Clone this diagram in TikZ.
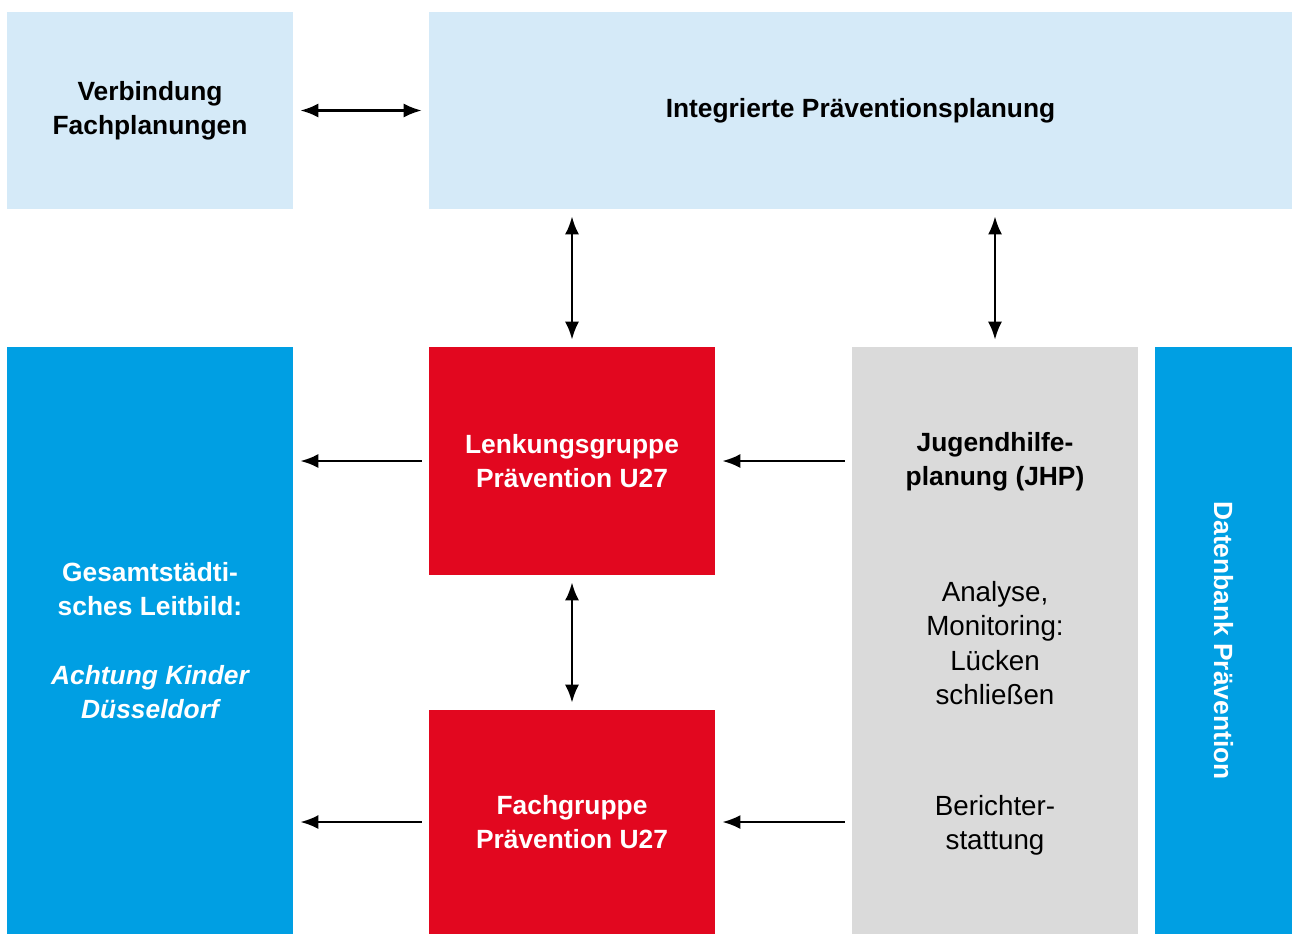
\documentclass[tikz,border=0pt]{standalone}
\usepackage{fontspec}
\setmainfont{Liberation Sans}
\usetikzlibrary{arrows.meta}
\definecolor{hellblau}{HTML}{D5EAF8}
\definecolor{blau}{HTML}{009FE3}
\definecolor{rot}{HTML}{E2071F}
\definecolor{grau}{HTML}{DADADA}
\begin{document}
\begin{tikzpicture}[
	x=0.02cm, y=-0.02cm,
	box/.style={inner sep=0pt, align=center, minimum width=5.72cm,
	font=\bfseries\fontsize{15}{19.5}\selectfont},
	schrift/.style={align=center, inner sep=0pt, font=\fontsize{15.8}{19.5}\selectfont},
	pfeil/.style={-{Latex[length=3.6mm,width=2.8mm]}, line width=1.4pt,
	shorten >=0.14cm, shorten <=0.14cm},
	doppelpfeil/.style={pfeil, {Latex[length=3.6mm,width=2.8mm]}-{Latex[length=3.6mm,width=2.8mm]}},
	]
	\useasboundingbox (0,0) rectangle (1293,934);
	% obere Reihe
	\node[box, fill=hellblau, minimum height=3.94cm] (verb) at (150,110.5) {Verbindung\\Fachplanungen};
	\node[box, fill=hellblau, minimum height=3.94cm, minimum width=17.26cm] (integ) at (860.5,110.5) {Integrierte Präventionsplanung};
	% untere Reihe
	\node[box, fill=blau, text=white, minimum height=11.74cm] (leit) at (150,640.5)
		{Gesamtstädti-\\sches Leitbild:\\[19.5pt]\itshape Achtung Kinder\\\itshape Düsseldorf};
	\node[box, fill=rot, text=white, minimum height=4.56cm] (lenk) at (572,461) {Lenkungsgruppe\\Prävention U27};
	\node[box, fill=rot, text=white, minimum height=4.48cm] (fach) at (572,822) {Fachgruppe\\Prävention U27};
	\node[box, fill=grau, minimum height=11.74cm] (jhp) at (995,640.5) {};
	\node[box, fill=blau, minimum height=11.74cm, minimum width=2.74cm] (daten) at (1223.5,640.5) {};
	\node[box, text=white, rotate=-90, minimum width=0pt] (datentext) at (daten.center) {Datenbank Prävention};
	% Texte in JHP
	\node[box, minimum width=0pt] (jhptitel) at (995,462) {Jugendhilfe-\\planung (JHP)};
	\node[schrift] (jhpanalyse) at (995,643) {Analyse,\\Monitoring:\\Lücken\\schließen};
	\node[schrift] (jhpbericht) at (995,825) {Berichter-\\stattung};
	% Pfeile
	\draw[doppelpfeil] (verb) -- (integ.west |- verb);
	\draw[doppelpfeil] (integ.south -| lenk.north) -- (lenk.north);
	\draw[doppelpfeil] (integ.south -| jhp.north) -- (jhp.north);
	\draw[doppelpfeil] (lenk.south) -- (fach.north);
	\draw[pfeil] (lenk.west) -- (leit.east |- lenk.west);
	\draw[pfeil] (fach.west) -- (leit.east |- fach.west);
	\draw[pfeil] (jhp.west |- lenk.east) -- (lenk.east);
	\draw[pfeil] (jhp.west |- fach.east) -- (fach.east);
\end{tikzpicture}
\end{document}
